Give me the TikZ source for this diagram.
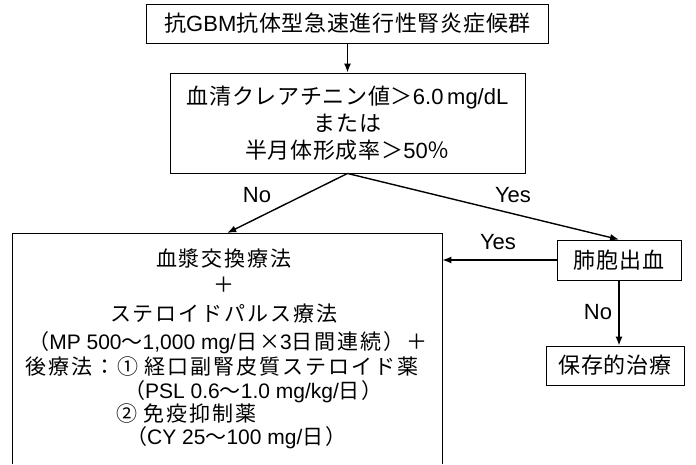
\documentclass[tikz,border=0pt]{standalone}
\usepackage{fontspec}
\setmainfont{Liberation Sans}
\newfontfamily\jpfont{Noto Sans CJK JP}
\usetikzlibrary{arrows.meta}
\makeatletter
\def\jsp@stop{\jsp@stop}
\newcommand\jspk{2pt}
\newcommand\jsp[1]{{\jpfont\jsp@first#1\jsp@stop}}
\def\jsp@first#1{#1\jsp@next}
\def\jsp@next#1{\ifx\jsp@stop#1\else\kern\jspk#1\expandafter\jsp@next\fi}
\makeatother
\tikzset{
  box/.style={draw, line width=0.9pt, inner sep=0pt, align=center,
    font=\fontsize{22}{27}\selectfont\renewcommand\jspk{0.7pt}},
  txt/.style={inner sep=0pt, font=\fontsize{21}{24}\selectfont\renewcommand\jspk{2pt}},
  lbl/.style={inner sep=0pt, font=\fontsize{22}{24}\selectfont},
  arr/.style={line width=1.4pt, -{Latex[length=9pt,width=7pt]}},
}
\begin{document}
\begin{tikzpicture}[x=1pt,y=-1pt]
\useasboundingbox (0,0) rectangle (696,464);
% boxes
\node[box, minimum width=402pt, minimum height=39pt] (top) at (347.5,23.5)
  {\jsp{抗}GBM\jsp{抗体型急速進行性腎炎症候群}};
\node[box, minimum width=355pt, minimum height=100pt] (crit) at (347.5,123)
  {\jsp{血清クレアチニン値＞}6.0\,mg/dL\\ \jsp{または}\\ \jsp{半月体形成率＞}50\jsp{％}};
\node[box, minimum width=124pt, minimum height=40pt] (lung) at (619,260) {\jsp{肺胞出血}};
\node[box, minimum width=138pt, minimum height=39pt] (cons) at (615,365.5) {\jsp{保存的治療}};
\node[inner sep=0pt, minimum width=430pt, minimum height=231pt, anchor=north west] (treat) at (12,233) {};
\draw[line width=0.9pt] (treat.south west) |- (treat.north east) -- (treat.south east);
% treatment text
\node[txt, anchor=base] (l1) at (224,266) {\jsp{血漿交換療法}};
\node[txt, anchor=base] (l2) at (224,292.5) {\jsp{＋}};
\node[txt, anchor=base] (l3) at (224,321.5) {\jsp{ステロイドパルス療法}};
\node[txt, anchor=base] (l4) at (228,349.5) {\jsp{（}MP 500\jsp{〜}1,000 mg/\jsp{日×}3\jsp{日間連続）＋}};
\node[txt, anchor=base west] (l5) at (25,374.5) {\jsp{後療法：①}\hspace{6pt}\jsp{経口副腎皮質ステロイド薬}};
\node[txt, anchor=base west] (l6) at (124,398.5) {\jsp{（}PSL 0.6\jsp{〜}1.0 mg/kg/\jsp{日）}};
\node[txt, anchor=base west] (l7) at (116,421.5) {\jsp{②}\hspace{6pt}\jsp{免疫抑制薬}};
\node[txt, anchor=base west] (l8) at (126,444.5) {\jsp{（}CY 25\jsp{〜}100 mg/\jsp{日）}};
% connectors
\draw[arr] (top.south) -- (crit.north);
\draw[arr] (crit.south) -- (treat.north);
\draw[arr] (crit.south) -- (lung.north);
\draw[arr] (lung.west) -- (lung.west -| treat.east);
\draw[arr] (lung.south) -- (lung.south |- cons.north);
% labels
\node[lbl] (n1) at (257,195) {No};
\node[lbl] (y1) at (513,195) {Yes};
\node[lbl] (y2) at (498,242) {Yes};
\node[lbl] (n2) at (598,312) {No};
\end{tikzpicture}
\end{document}
